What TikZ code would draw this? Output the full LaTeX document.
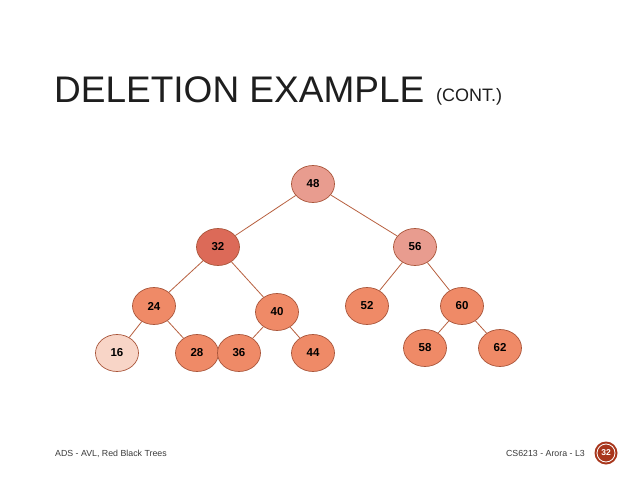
\documentclass[tikz,border=0pt]{standalone}
\usepackage{fontspec}
\setmainfont{Liberation Sans}
\usetikzlibrary{shapes.geometric}
\definecolor{nstroke}{HTML}{A9553A}
\definecolor{edgec}{HTML}{B8603F}
\definecolor{fnorm}{HTML}{EF8A67}
\definecolor{flight}{HTML}{E89C8F}
\definecolor{fdark}{HTML}{DC6A58}
\definecolor{fpale}{HTML}{F8D5C7}
\definecolor{pagered}{HTML}{A8361C}
\definecolor{txtgrey}{HTML}{3A3A3A}
\definecolor{titlec}{HTML}{1E1E1E}
\tikzset{
  tnode/.style={ellipse, draw=nstroke, line width=0.7pt, fill=fnorm, minimum width=43pt, minimum height=37pt, inner sep=0pt, font=\fontsize{11.5}{11.5}\selectfont\bfseries, text=black},
  tedge/.style={draw=edgec, line width=0.8pt},
  foot/.style={font=\fontsize{8.8}{9}\selectfont, text=txtgrey, inner sep=0pt}
}
\begin{document}
\begin{tikzpicture}[x=1pt,y=-1pt]
\useasboundingbox[fill=white] (0,0) rectangle (638,479);
% title
\node[anchor=base west, inner sep=0pt, font=\fontsize{37}{37}\selectfont, text=titlec] (title) at (54,102) {DELETION EXAMPLE};
\node[anchor=base west, inner sep=0pt, font=\fontsize{18}{18}\selectfont, text=titlec] (cont) at (436,101) {(CONT.)};
% nodes
\node[tnode, fill=flight] (n48) at (313,184) {48};
\node[tnode, fill=fdark] (n32) at (218,247) {32};
\node[tnode, fill=flight] (n56) at (415,247) {56};
\node[tnode] (n24) at (154,306) {24};
\node[tnode] (n40) at (277,312) {40};
\node[tnode] (n52) at (367,306) {52};
\node[tnode] (n60) at (462,306) {60};
\node[tnode, fill=fpale] (n16) at (117,353) {16};
\node[tnode] (n28) at (197,353) {28};
\node[tnode] (n36) at (239,353) {36};
\node[tnode] (n44) at (313,353) {44};
\node[tnode] (n58) at (425,348) {58};
\node[tnode] (n62) at (500,348) {62};
% edges
\draw[tedge] (n48) -- (n32);
\draw[tedge] (n48) -- (n56);
\draw[tedge] (n32) -- (n24);
\draw[tedge] (n32) -- (n40);
\draw[tedge] (n24) -- (n16);
\draw[tedge] (n24) -- (n28);
\draw[tedge] (n40) -- (n36);
\draw[tedge] (n40) -- (n44);
\draw[tedge] (n56) -- (n52);
\draw[tedge] (n56) -- (n60);
\draw[tedge] (n60) -- (n58);
\draw[tedge] (n60) -- (n62);
% footer
\node[foot, anchor=base west] (fl) at (55,456) {ADS - AVL, Red Black Trees};
\node[foot, anchor=base east] (fr) at (585,456) {CS6213 - Arora - L3};
\node[circle, fill=pagered, minimum size=23pt, inner sep=0pt] (pg) at (606,453) {};
\node[circle, draw=white, line width=0.8pt, minimum size=18pt, inner sep=0pt, text=white, font=\fontsize{8.5}{9}\selectfont\bfseries] (pgn) at (606,453) {32};
\end{tikzpicture}
\end{document}
